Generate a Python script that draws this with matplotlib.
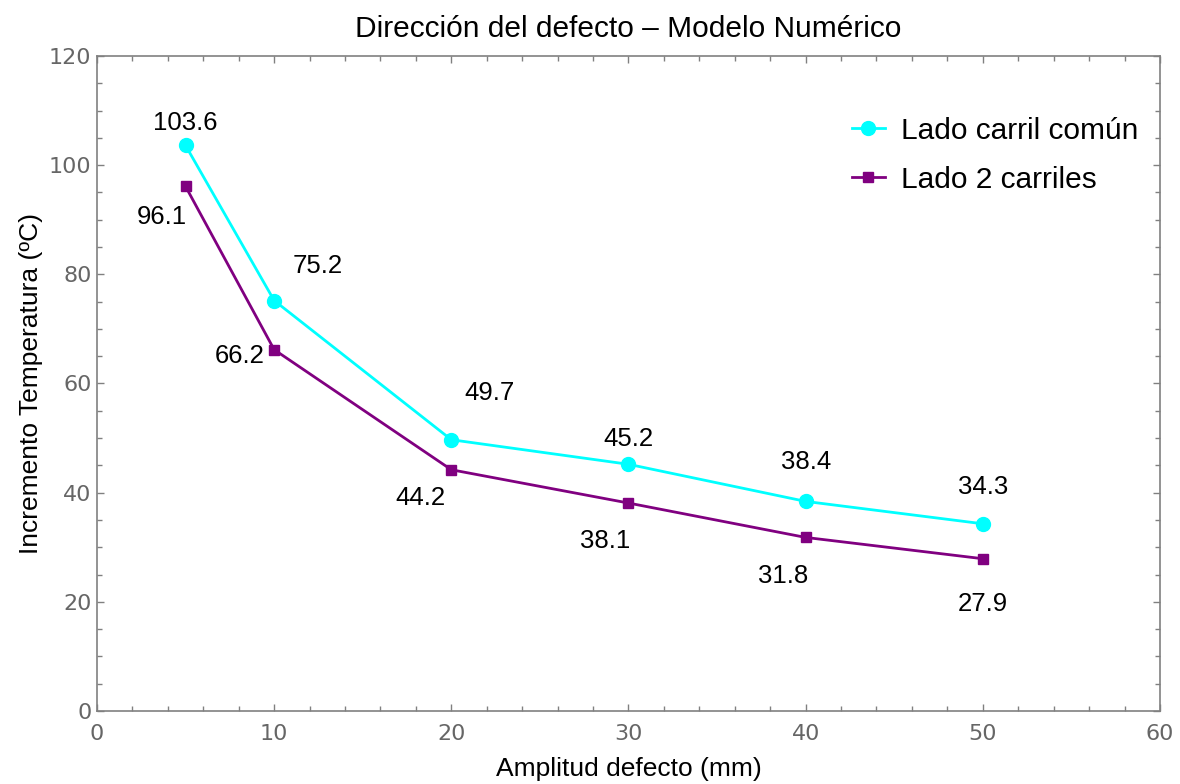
import matplotlib
matplotlib.use('Agg')
import matplotlib.pyplot as plt
from matplotlib.ticker import MultipleLocator

plt.rcParams['font.family'] = ['Liberation Sans', 'DejaVu Sans']

# datos
amplitud = [5, 10, 20, 30, 40, 50]
carril_comun = [103.6, 75.2, 49.7, 45.2, 38.4, 34.3]
dos_carriles = [96.1, 66.2, 44.2, 38.1, 31.8, 27.9]

# desplazamiento de etiquetas (pixeles)
off_comun = [(0, 22), (44, 35), (38, 47), (0, 25), (0, 39), (0, 37)]
off_dos = [(-24, -31), (-34, -6), (-31, -28), (-23, -38), (-23, -39), (0, -45)]

fig = plt.figure(figsize=(11.8, 7.84), dpi=100)
ax = fig.add_axes([0.0822, 0.0931, 0.9008, 0.8355])

ax.plot(amplitud, carril_comun, color='#00FFFF', lw=2.0, marker='o', ms=10,
        label='Lado carril común')
ax.plot(amplitud, dos_carriles, color='#800080', lw=2.0, marker='s', ms=7,
        label='Lado 2 carriles')

for x, y, o in zip(amplitud, carril_comun, off_comun):
    ax.annotate('%.1f' % y, (x, y), xytext=o, textcoords='offset pixels',
                ha='center', va='center', fontsize=18.5)
for x, y, o in zip(amplitud, dos_carriles, off_dos):
    ax.annotate('%.1f' % y, (x, y), xytext=o, textcoords='offset pixels',
                ha='center', va='center', fontsize=18.5)

ax.set_xlim(0, 60)
ax.set_ylim(0, 120)
ax.xaxis.set_major_locator(MultipleLocator(10))
ax.xaxis.set_minor_locator(MultipleLocator(2))
ax.yaxis.set_major_locator(MultipleLocator(20))
ax.yaxis.set_minor_locator(MultipleLocator(5))

gris = '#808080'
for s in ax.spines.values():
    s.set_color(gris)
    s.set_linewidth(1.2)
ax.tick_params(which='both', direction='in', top=True, right=True,
               color=gris, width=1.0)
ax.tick_params(which='major', length=5, labelsize=16, labelcolor='#666666', pad=4)
ax.tick_params(axis='x', which='major', pad=9)
ax.tick_params(which='minor', length=3.5)
for lab in ax.get_xticklabels() + ax.get_yticklabels():
    lab.set_family('DejaVu Sans')

ax.set_title('Dirección del defecto – Modelo Numérico', fontsize=21.5, pad=14)
ax.set_xlabel('Amplitud defecto (mm)', fontsize=19, labelpad=10)
ax.set_ylabel('Incremento Temperatura (ºC)', fontsize=19, labelpad=4)

ax.legend(loc='upper right', bbox_to_anchor=(1.005, 0.948), frameon=False,
          fontsize=21.5, handlelength=1.1, handletextpad=0.55, labelspacing=0.7)

fig.savefig('out.png', dpi=100)
